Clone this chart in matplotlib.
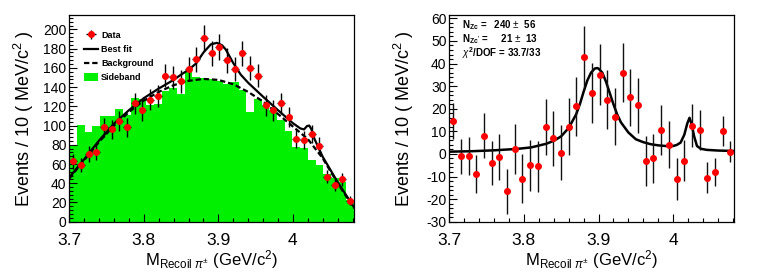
import matplotlib
matplotlib.use('Agg')
import matplotlib.pyplot as plt
import numpy as np
from matplotlib.ticker import MultipleLocator

plt.rcParams['font.family'] = ['Liberation Sans', 'DejaVu Sans']
plt.rcParams['mathtext.fontset'] = 'custom'
plt.rcParams['mathtext.rm'] = 'Liberation Sans'
plt.rcParams['mathtext.it'] = 'Liberation Sans:italic'
plt.rcParams['mathtext.bf'] = 'Liberation Sans:bold'
plt.rcParams['axes.unicode_minus'] = False

# binning (37 bins over the recoil mass range)
x_lo, x_hi, n_bins = 3.7, 4.082, 37
edges = np.linspace(x_lo, x_hi, n_bins + 1)
centers = 0.5 * (edges[1:] + edges[:-1])

# left panel: data and sideband
data = [63, 59, 70, 73, 98, 96, 105, 98, 123, 116, 127, 131, 152, 150, 146, 159,
        169, 191, 175, 182, 168, 159, 175, 160, 152, 121, 116, 123, 109, 86, 85,
        91, 79, 47, 38, 44, 22]
sideband = [80, 101, 93, 100, 110, 110, 117, 111, 129, 128, 121, 122, 136, 139,
            133, 156, 151, 149, 148, 146, 143, 145, 137, 114, 128, 120, 115, 106,
            94, 78, 77, 64, 59, 50, 45, 41, 23]

# fit curves
fit_x = [3.70, 3.72, 3.74, 3.76, 3.78, 3.80, 3.82, 3.84, 3.85, 3.86, 3.87, 3.88,
         3.89, 3.898, 3.905, 3.91, 3.92, 3.93, 3.94, 3.96, 3.98, 4.00, 4.01,
         4.015, 4.019, 4.022, 4.025, 4.029, 4.035, 4.04, 4.06, 4.082]
fit_y = [46, 65, 84.5, 102, 116, 128.5, 138.5, 147.5, 153, 158, 164.5, 176,
         184.5, 186, 183.5, 179, 165, 153, 144.5, 130, 116, 102.5, 97, 96, 99.5,
         100, 96, 86, 76, 67.5, 41.3, 15]
bkg_x = [3.70, 3.72, 3.74, 3.76, 3.78, 3.80, 3.82, 3.84, 3.86, 3.88, 3.90, 3.92,
         3.94, 3.96, 3.98, 4.00, 4.02, 4.04, 4.06, 4.082]
bkg_y = [45, 64, 83, 100, 114, 126, 135, 142, 146.5, 148.5, 147.5, 143, 135, 125,
         112, 99, 86, 66, 40, 14]

# right panel: sideband-subtracted data
sub = [14.5, -1, -1, -9, 8, -4, -1.5, -16.5, 2, -11, -5, -5.5, 12, 7, 0.5, 12,
       21, 43, 27, 35, 24, 16.5, 36, 25, 21.5, -3, -2, 10.5, 4, -11, -3, 12.5,
       10.5, -10.5, -8, 10, 1]
sub_err = [7.9, 7.7, 8.4, 8.5, 9.9, 9.8, 10.2, 9.9, 11.1, 10.8, 11.3, 11.4, 12.3,
           12.2, 12.1, 12.6, 13.0, 13.8, 13.2, 13.5, 13.0, 12.6, 13.2, 12.6, 12.3,
           11.0, 10.8, 11.1, 10.4, 9.3, 9.2, 9.5, 8.9, 6.9, 6.2, 6.6, 4.7]
sig_x = [3.70, 3.73, 3.76, 3.79, 3.81, 3.83, 3.84, 3.85, 3.86, 3.87, 3.875, 3.88,
         3.885, 3.89, 3.895, 3.898, 3.90, 3.905, 3.91, 3.915, 3.92, 3.925, 3.93,
         3.94, 3.95, 3.96, 3.97, 3.98, 3.99, 4.00, 4.005, 4.01, 4.015, 4.019,
         4.022, 4.025, 4.028, 4.032, 4.037, 4.045, 4.06, 4.082]
sig_y = [1.0, 1.2, 1.6, 2.2, 2.9, 4.5, 5.8, 7.8, 11.5, 17.5, 22, 27.5, 32.5, 36,
         37.8, 38, 37.8, 36, 32, 27, 22, 17.5, 14, 9.5, 6.5, 5.2, 4.3, 3.8, 3.5,
         3.5, 4.0, 5.0, 8.5, 13.5, 16, 13, 8, 3.5, 2.3, 1.8, 1.5, 1.3]

fig = plt.figure(figsize=(7.61, 2.73), dpi=100)
ax1 = fig.add_axes([69.3 / 761, 51.3 / 273, 284.7 / 761, 206.7 / 273])
ax2 = fig.add_axes([449.3 / 761, 51.3 / 273, 285 / 761, 206.7 / 273])

half_w = 0.5 * (edges[1] - edges[0])

# left
ax1.stairs(sideband, edges, fill=True, color='#00f000', label='Sideband', zorder=1)
ax1.plot(bkg_x, bkg_y, color='black', lw=1.6, ls=(0, (2.4, 1.3)), label='Background', zorder=3)
ax1.plot(fit_x, fit_y, color='black', lw=1.6, label='Best fit', zorder=4)
ax1.errorbar(centers, data, yerr=np.sqrt(data), xerr=half_w, fmt='o', color='red',
             ms=4.0, ecolor='black', elinewidth=1.0, capsize=0, label='Data', zorder=5)
ax1.set_xlim(x_lo, x_hi)
ax1.set_ylim(0, 215)
ax1.yaxis.set_major_locator(MultipleLocator(20))
ax1.yaxis.set_minor_locator(MultipleLocator(4))

h, l = ax1.get_legend_handles_labels()
order = [l.index(n) for n in ['Data', 'Best fit', 'Background', 'Sideband']]
leg = ax1.legend([h[i] for i in order], [l[i] for i in order], loc='upper left',
                 bbox_to_anchor=(0.035, 0.945), frameon=False, borderpad=0,
                 handlelength=1.6, handletextpad=0.3, labelspacing=0.55,
                 handleheight=1.0, prop={'size': 6.5, 'weight': 'bold'})

# right
ax2.errorbar(centers, sub, yerr=sub_err, fmt='o', color='red', ms=4.0,
             ecolor='#111111', elinewidth=1.0, capsize=0, zorder=5)
ax2.plot(sig_x, sig_y, color='black', lw=1.8, zorder=4)
ax2.set_xlim(x_lo, x_hi)
ax2.set_ylim(-30, 61.5)
ax2.yaxis.set_major_locator(MultipleLocator(10))
ax2.yaxis.set_minor_locator(MultipleLocator(2))

txt = dict(transform=ax2.transAxes, fontsize=7, fontweight='bold', va='center', ha='left')
ax2.text(0.043, 0.952, r'N$_{\mathbf{Zc}}$ =   240 $\pm$  56', **txt)
ax2.text(0.043, 0.885, r"N$_{\mathbf{Zc'}}$ =     21 $\pm$  13", **txt)
ax2.text(0.043, 0.818, r'$\chi^{\mathbf{2}}$/DOF = 33.7/33', **txt)

for ax in (ax1, ax2):
    ax.xaxis.set_major_locator(MultipleLocator(0.1))
    ax.xaxis.set_minor_locator(MultipleLocator(0.02))
    ax.set_xticks([3.7, 3.8, 3.9, 4.0])
    ax.set_xticklabels(['3.7', '3.8', '3.9', '4'])
    ax.tick_params(which='both', direction='in', top=False, right=False)
    ax.tick_params(which='major', length=6, width=0.8)
    ax.tick_params(which='minor', length=3, width=0.8)
    ax.tick_params(axis='x', labelsize=12.5, pad=8)
    ax.tick_params(axis='y', labelsize=10, pad=2)
    for s in ax.spines.values():
        s.set_linewidth(0.9)
    ax.set_ylabel('Events / 10 ( MeV/c$^{2}$ )', fontsize=13)
    ax.yaxis.set_label_coords(-0.118, 0.5)
    ax.set_xlabel(r'M$_{\mathrm{Recoil}\ \pi^{\pm}}$ (GeV/c$^{2}$)', fontsize=12)
    ax.xaxis.set_label_coords(0.5, -0.13)

fig.savefig('out.png', dpi=100)
